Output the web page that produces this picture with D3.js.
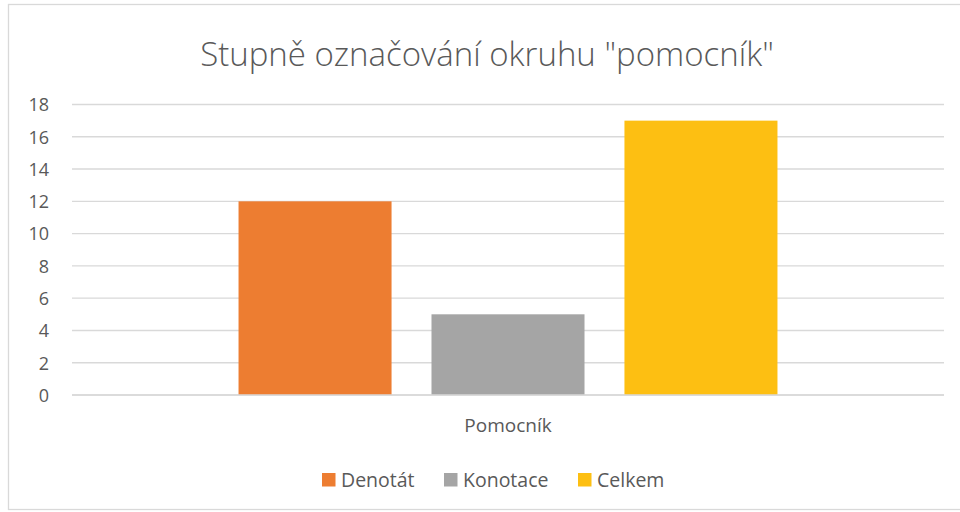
<!DOCTYPE html>
<html><head><meta charset="utf-8">
<script src="https://cdn.jsdelivr.net/npm/d3@7"></script>
<style>body{margin:0;background:#fff}svg{display:block}text{font-family:"Open Sans","Noto Sans",sans-serif;fill:#595959}</style>
</head><body><svg id="c" width="960" height="512"></svg>
<script>
const categories = ["Pomocník"];
const seriesNames = ["Denotát","Konotace","Celkem"];
const seriesValues = [12, 5, 17];
const seriesColors = ["#ED7D31","#A5A5A5","#FDBF12"];
const yTicks = [0,2,4,6,8,10,12,14,16,18];
const title = "Stupně označování okruhu \"pomocník\"";

const svg = d3.select("#c");
svg.append("rect").attr("x",8.5).attr("y",4.5).attr("width",960).attr("height",505)
  .attr("fill","#fff").attr("stroke","#d9d9d9").attr("stroke-width",1.3);

const L=72, R=944, T=104.5, B=395;
const y = d3.scaleLinear().domain([0,18]).range([B,T]);
const x0 = d3.scaleBand().domain(categories).range([L,R]).paddingInner(0).paddingOuter(0.309);
const x1 = d3.scaleBand().domain(seriesNames).range([0,x0.bandwidth()]).paddingInner(0.207).paddingOuter(0);

const grid = svg.append("g");
grid.selectAll("line").data(yTicks).join("line")
  .attr("x1",L).attr("x2",R).attr("y1",d=>y(d)).attr("y2",d=>y(d))
  .attr("stroke","#d9d9d9").attr("stroke-width",1.4);

const yAxis = d3.axisLeft(y).tickValues(yTicks).tickSize(0).tickPadding(0);
const ga = svg.append("g").attr("transform","translate(49,0)").call(yAxis);
ga.select(".domain").remove();
ga.selectAll("text").style("font-size","18px").style("fill","#595959").style("font-family","'Open Sans',sans-serif").attr("dy","0.35em");

const data = seriesNames.map((s,i)=>({cat:categories[0],s,v:seriesValues[i],c:seriesColors[i]}));
svg.append("g").selectAll("rect").data(data).join("rect")
  .attr("x",d=>x0(d.cat)+x1(d.s)).attr("width",x1.bandwidth())
  .attr("y",d=>y(d.v)).attr("height",d=>y(0)-y(d.v)).attr("fill",d=>d.c);

svg.append("line").attr("x1",L).attr("x2",R).attr("y1",y(0)).attr("y2",y(0)).attr("stroke","#d9d9d9").attr("stroke-width",1.4);

const xAxis = d3.axisBottom(x0).tickSize(0).tickPadding(0);
const gx = svg.append("g").attr("transform",`translate(0,${B+37})`).call(xAxis);
gx.select(".domain").remove();
gx.selectAll("text").style("font-size","19px").style("fill","#595959").style("font-family","'Open Sans',sans-serif").attr("dy","0");

svg.append("text").attr("x",487).attr("y",66).attr("text-anchor","middle")
  .style("font-size","33px").style("font-weight","300").text(title);

const legX = [322, 444, 578];
const lg = svg.append("g").selectAll("g").data(data).join("g")
  .attr("transform",(d,i)=>`translate(${legX[i]},473)`);
lg.append("rect").attr("width",13.5).attr("height",13.5).attr("fill",d=>d.c);
lg.append("text").attr("x",19).attr("y",14).style("font-size","19.5px").text(d=>d.s);
</script></body></html>
